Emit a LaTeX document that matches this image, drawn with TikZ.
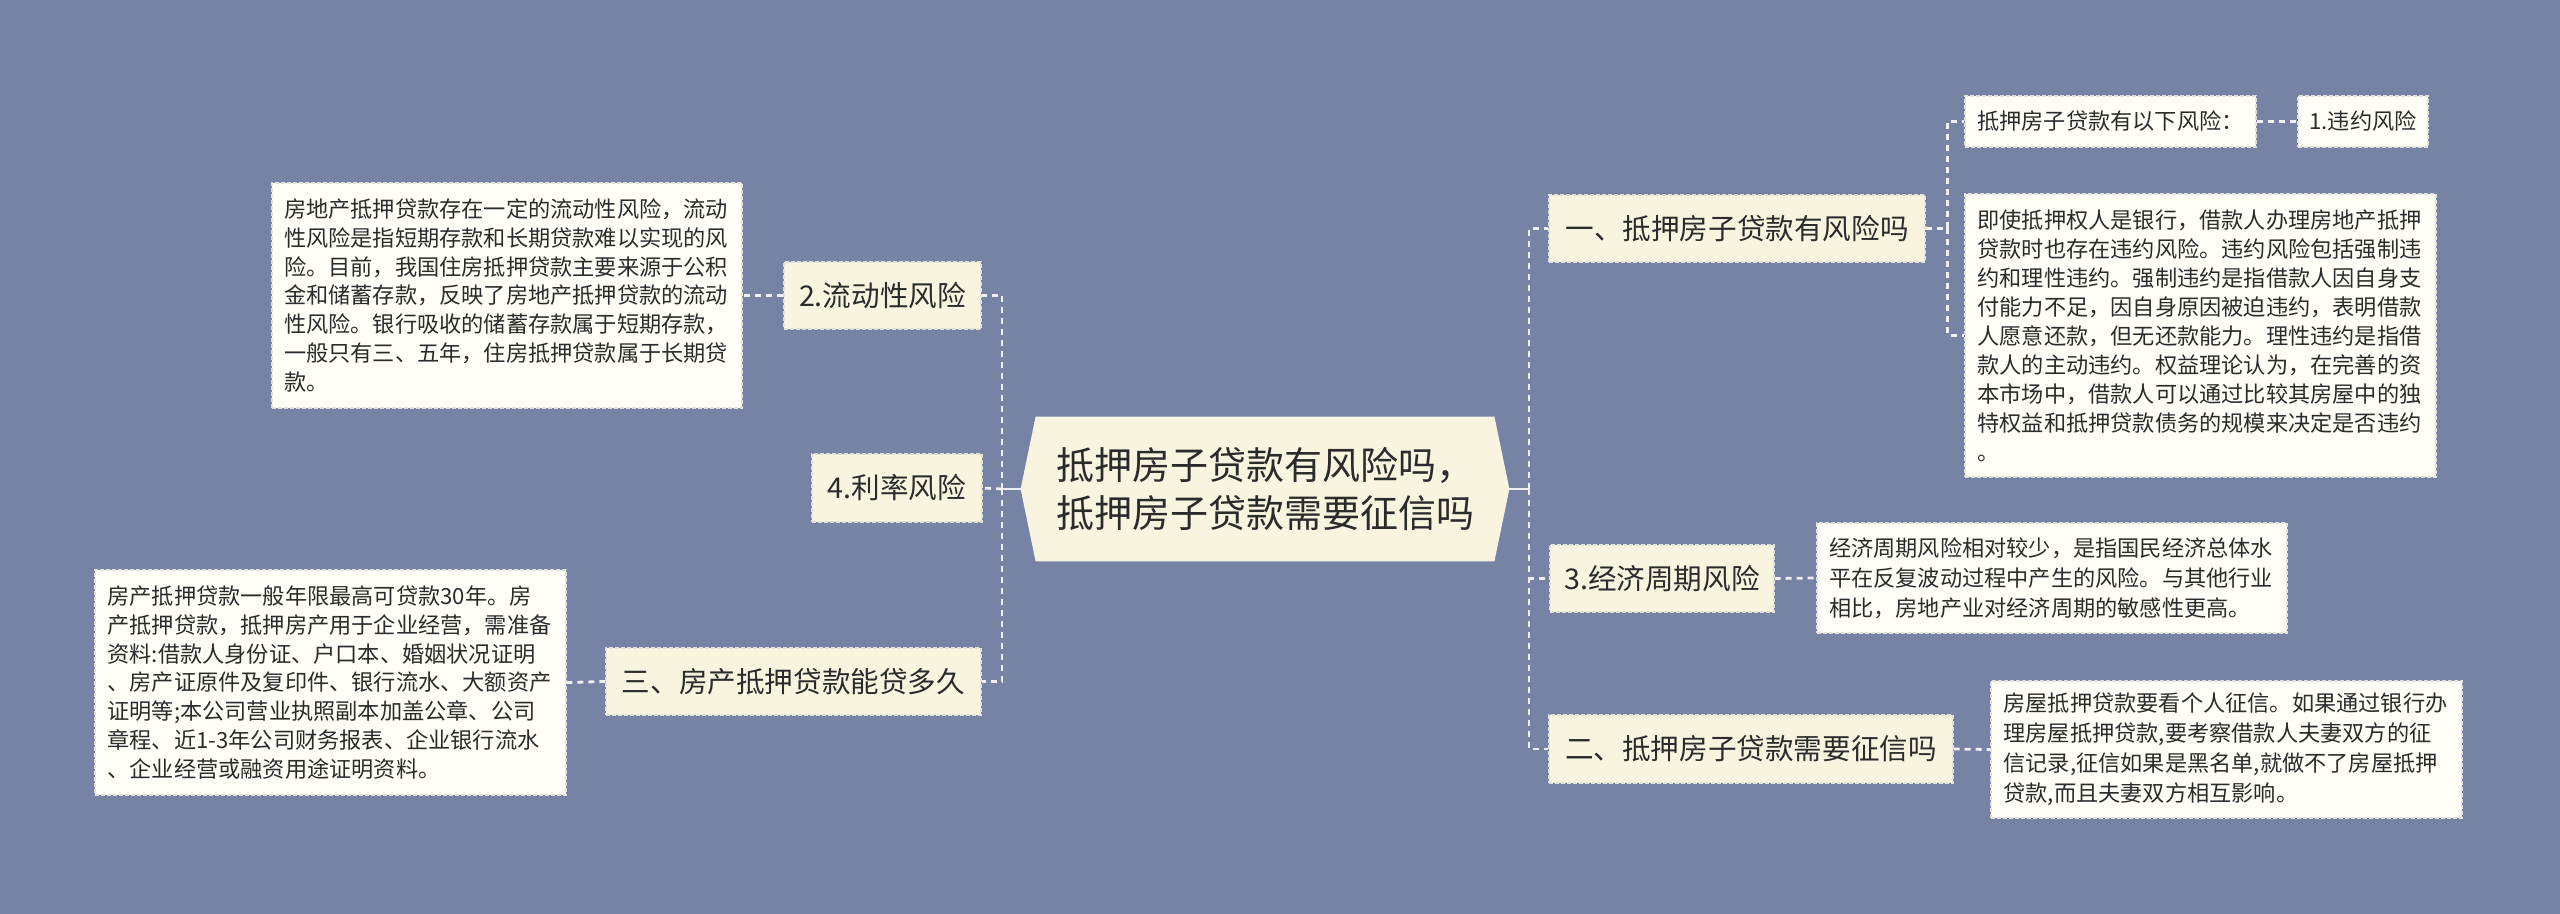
\documentclass[tikz,border=0pt]{standalone}
\usepackage{fontspec}
\newfontfamily\cjk{Noto Sans CJK SC}
\usetikzlibrary{backgrounds}
\definecolor{bg}{HTML}{7783A5}
\definecolor{cream}{HTML}{F8F4DF}
\definecolor{paper}{HTML}{FFFFF8}
\definecolor{edge}{HTML}{E2E2DA}
\definecolor{ink}{HTML}{2B2B2B}
\definecolor{link}{HTML}{EEF0F6}
\begin{document}
\begin{tikzpicture}[x=0.5pt,y=-0.5pt,
 topic/.style={fill=cream, draw=edge, line width=0.6pt, dash pattern=on 2pt off 1pt, font=\cjk\fontsize{14.3}{17}\selectfont, text=ink, inner sep=0pt},
 note/.style={fill=paper, draw=edge, line width=0.6pt, dash pattern=on 2pt off 1pt, font=\cjk\fontsize{11.1}{14.4}\selectfont, text=ink, inner sep=0pt, align=left},
 conn/.style={draw=link, line width=1.4pt, dash pattern=on 3pt off 2.5pt},
 solidconn/.style={draw=link, line width=1.4pt},
]
\useasboundingbox (0,0) rectangle (2560,914);

% centre
\node[font=\cjk\fontsize{19}{24}\selectfont, text=ink, align=left, minimum width=244pt, minimum height=72pt, inner sep=0pt] (C) at (1265,489) {抵押房子贷款有风险吗，\\抵押房子贷款需要征信吗};
\begin{scope}[on background layer]
\fill[bg] (0,0) rectangle (2560,914);
\fill[cream] (C.west) -- ([xshift=7.5pt]C.north west) -- ([xshift=-7.5pt]C.north east) -- (C.east) -- ([xshift=-7.5pt]C.south east) -- ([xshift=7.5pt]C.south west) -- cycle;
\end{scope}

% left side
\node[topic, minimum width=98.5pt, minimum height=33.5pt] (L2) at (882.5,295.5) {2.流动性风险};
\node[topic, minimum width=85pt, minimum height=34pt] (L4) at (897,488) {4.利率风险};
\node[topic, minimum width=187.5pt, minimum height=33.5pt] (L3) at (793.5,681.5) {三、房产抵押贷款能贷多久};
\node[note, minimum width=235pt, minimum height=112.5pt, text width=223pt] (T2L) at (507,295.5) {房地产抵押贷款存在一定的流动性风险，流动\\
性风险是指短期存款和长期贷款难以实现的风\\
险。目前，我国住房抵押贷款主要来源于公积\\
金和储蓄存款，反映了房地产抵押贷款的流动\\
性风险。银行吸收的储蓄存款属于短期存款，\\
一般只有三、五年，住房抵押贷款属于长期贷\\
款。};
\node[note, minimum width=235.5pt, minimum height=112.5pt, text width=223pt] (T3L) at (330.5,682.5) {房产抵押贷款一般年限最高可贷款30年。房\\
产抵押贷款，抵押房产用于企业经营，需准备\\
资料:借款人身份证、户口本、婚姻状况证明\\
、房产证原件及复印件、银行流水、大额资产\\
证明等;本公司营业执照副本加盖公章、公司\\
章程、近1-3年公司财务报表、企业银行流水\\
、企业经营或融资用途证明资料。};

% right side
\node[topic, minimum width=188pt, minimum height=33.5pt] (R1) at (1737,228.5) {一、抵押房子贷款有风险吗};
\node[topic, minimum width=112pt, minimum height=33.5pt] (R3) at (1662,578.5) {3.经济周期风险};
\node[topic, minimum width=202pt, minimum height=34pt] (R2) at (1751,749) {二、抵押房子贷款需要征信吗};
\node[note, minimum width=145.5pt, minimum height=25.5pt, align=center] (S1) at (2110.5,121.5) {抵押房子贷款有以下风险：};
\node[note, minimum width=65pt, minimum height=25.5pt, align=center] (S1a) at (2363,121.5) {1.违约风险};
\node[note, minimum width=235.5pt, minimum height=141.5pt, text width=223pt, font=\cjk\fontsize{11.1}{14.5}\selectfont] (S2) at (2200.5,335.5) {即使抵押权人是银行，借款人办理房地产抵押\\
贷款时也存在违约风险。违约风险包括强制违\\
约和理性违约。强制违约是指借款人因自身支\\
付能力不足，因自身原因被迫违约，表明借款\\
人愿意还款，但无还款能力。理性违约是指借\\
款人的主动违约。权益理论认为，在完善的资\\
本市场中，借款人可以通过比较其房屋中的独\\
特权益和抵押贷款债务的规模来决定是否违约\\
。};
\node[note, minimum width=235pt, minimum height=55pt, text width=223pt, font=\cjk\fontsize{11.1}{15}\selectfont] (T3R) at (2052,578) {经济周期风险相对较少，是指国民经济总体水\\
平在反复波动过程中产生的风险。与其他行业\\
相比，房地产业对经济周期的敏感性更高。};
\node[note, minimum width=235.5pt, minimum height=68.5pt, text width=223pt, font=\cjk\fontsize{11.1}{15}\selectfont] (T2R) at (2226.5,749.5) {房屋抵押贷款要看个人征信。如果通过银行办\\
理房屋抵押贷款,要考察借款人夫妻双方的征\\
信记录,征信如果是黑名单,就做不了房屋抵押\\
贷款,而且夫妻双方相互影响。};

% connectors
\coordinate (JL) at (1002,489);
\coordinate (JR) at (1529,489);
\coordinate (JS) at ([xshift=11pt]R1.east);
\draw[solidconn] (C.west) -- (JL);
\draw[solidconn] (C.east) -- (JR);
\draw[conn] (JL) |- (L2.east);
\draw[conn] (JL) |- (L3.east);
\draw[conn] (JL) -- (L4.east);
\draw[conn] (L2.west) -- (T2L.east);
\draw[conn] (L3.west) -- (T3L.east);
\draw[conn] (JR) |- (R1.west);
\draw[conn] (JR) |- (R3.west);
\draw[conn] (JR) |- (R2.west);
\draw[conn] (R1.east) -- (JS);
\draw[conn] (JS) |- (S1.west);
\draw[conn] (JS) |- (S2.west);
\draw[conn] (S1.east) -- (S1a.west);
\draw[conn] (R3.east) -- (T3R.west);
\draw[conn] (R2.east) -- (T2R.west);
\end{tikzpicture}
\end{document}
